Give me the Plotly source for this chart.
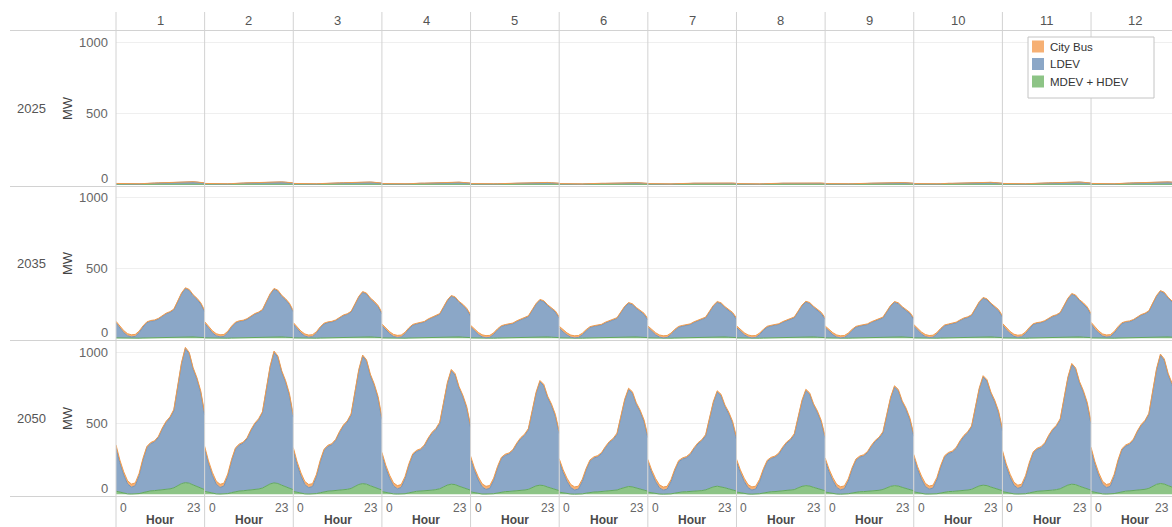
import plotly.graph_objects as go

# ---------------------------------------------------------------------------
# Data: hourly EV charging load (MW) by year and month
# ---------------------------------------------------------------------------
hours = list(range(24))
month_labels = [str(m) for m in range(1, 13)]
year_labels = ["2025", "2035", "2050"]
series_names = ["City Bus", "LDEV", "MDEV + HDEV"]

bus_2025 = [2, 2, 2, 2, 2, 2, 2, 1, 1, 1, 1, 1, 1, 1, 1, 1, 1, 1, 1, 1, 1, 1, 2, 2]
bus_2035 = [12, 14, 15, 15, 15, 14, 11, 8, 6, 5, 5, 5, 5, 5, 5, 6, 6, 6, 6, 7, 7, 8, 9, 11]
bus_2050 = [18, 20, 22, 22, 22, 20, 16, 12, 9, 8, 8, 8, 8, 8, 8, 9, 9, 9, 9, 10, 11, 12, 14, 16]

green_2025 = [0, 0, 0, 0, 0, 0, 0, 0, 1, 1, 1, 1, 1, 1, 1, 1, 1, 1, 1, 1, 1, 1, 0, 0]
green_2035 = [3, 2, 1, 1, 0, 0, 1, 2, 3, 4, 4, 5, 5, 5, 6, 7, 9, 11, 12, 11, 10, 8, 6, 5]
green_2050 = [
    [22, 14, 7, 3, 2, 2, 5, 12, 20, 24, 26, 28, 30, 33, 38, 45, 60, 75, 82, 78, 66, 54, 42, 33],
    [21, 14, 7, 3, 2, 2, 5, 12, 20, 23, 25, 27, 29, 32, 37, 44, 59, 73, 80, 76, 64, 53, 41, 32],
    [20, 13, 6, 3, 2, 2, 5, 11, 18, 22, 24, 26, 27, 30, 35, 41, 55, 69, 75, 71, 60, 49, 38, 30],
    [19, 12, 6, 3, 2, 2, 4, 10, 17, 21, 23, 24, 26, 29, 33, 39, 52, 65, 71, 68, 57, 47, 36, 29],
    [17, 11, 5, 2, 2, 2, 4, 9, 16, 19, 20, 22, 23, 26, 30, 35, 47, 59, 64, 61, 51, 42, 33, 26],
    [15, 9, 5, 2, 1, 1, 3, 8, 13, 16, 17, 19, 20, 22, 25, 30, 40, 50, 55, 52, 44, 36, 28, 22],
    [15, 10, 5, 2, 1, 1, 3, 8, 14, 17, 18, 19, 21, 23, 26, 31, 42, 52, 57, 54, 46, 38, 29, 23],
    [16, 10, 5, 2, 1, 1, 4, 9, 15, 18, 19, 21, 22, 25, 28, 33, 45, 56, 61, 58, 49, 40, 31, 25],
    [16, 11, 5, 2, 1, 1, 4, 9, 15, 18, 19, 21, 22, 25, 28, 34, 45, 56, 61, 58, 49, 40, 31, 25],
    [17, 11, 5, 2, 2, 2, 4, 9, 16, 19, 20, 22, 23, 26, 30, 35, 47, 59, 64, 61, 51, 42, 33, 26],
    [19, 12, 6, 3, 2, 2, 4, 10, 17, 21, 23, 24, 26, 29, 33, 39, 52, 65, 71, 68, 57, 47, 36, 29],
    [20, 13, 6, 3, 2, 2, 5, 11, 19, 22, 24, 26, 28, 31, 35, 42, 56, 70, 76, 72, 61, 50, 39, 31],
]

ldev_2025 = [
    [4, 3, 2, 1, 1, 1, 2, 4, 6, 7, 7, 8, 9, 10, 11, 12, 15, 18, 19, 18, 16, 14, 12, 8],
    [4, 3, 2, 1, 1, 1, 2, 4, 6, 7, 7, 8, 9, 10, 10, 11, 14, 17, 18, 17, 15, 13, 11, 8],
    [4, 3, 2, 1, 1, 1, 2, 4, 5, 6, 6, 7, 8, 9, 10, 11, 13, 15, 17, 16, 14, 12, 10, 7],
    [3, 2, 1, 1, 1, 1, 2, 3, 5, 5, 6, 6, 7, 8, 9, 10, 12, 14, 15, 14, 13, 11, 9, 7],
    [3, 2, 1, 1, 1, 1, 2, 3, 4, 5, 5, 5, 6, 7, 7, 8, 10, 11, 12, 12, 11, 9, 8, 6],
    [3, 2, 1, 1, 0, 1, 1, 3, 4, 4, 4, 5, 5, 6, 6, 7, 8, 10, 10, 10, 9, 8, 7, 5],
    [3, 2, 1, 1, 0, 1, 1, 3, 4, 4, 5, 5, 6, 6, 7, 7, 9, 10, 11, 10, 9, 8, 7, 5],
    [3, 2, 1, 1, 0, 1, 1, 3, 4, 4, 5, 5, 6, 6, 7, 7, 9, 10, 11, 10, 9, 8, 7, 5],
    [3, 2, 1, 1, 1, 1, 2, 3, 4, 5, 5, 5, 6, 7, 7, 8, 9, 11, 12, 11, 10, 9, 7, 6],
    [3, 2, 1, 1, 1, 1, 2, 3, 5, 5, 5, 6, 7, 7, 8, 9, 11, 13, 14, 13, 12, 10, 8, 6],
    [4, 3, 2, 1, 1, 1, 2, 4, 5, 6, 6, 7, 8, 9, 10, 11, 13, 16, 17, 16, 14, 12, 10, 7],
    [4, 3, 2, 1, 1, 1, 2, 4, 6, 7, 7, 8, 9, 10, 11, 12, 14, 17, 18, 17, 15, 13, 11, 8],
]

ldev_2035 = [
    [106, 68, 39, 17, 10, 14, 39, 78, 108, 118, 122, 132, 152, 169, 179, 195, 250, 306, 342, 330, 294, 270, 238, 183],
    [104, 67, 38, 17, 10, 13, 38, 77, 106, 116, 120, 130, 150, 166, 176, 192, 247, 301, 337, 325, 289, 266, 235, 181],
    [97, 62, 35, 15, 8, 12, 35, 72, 99, 108, 112, 121, 140, 156, 164, 179, 230, 282, 315, 304, 270, 248, 219, 168],
    [87, 55, 31, 12, 6, 9, 31, 65, 90, 98, 102, 110, 128, 142, 150, 163, 210, 257, 287, 277, 246, 226, 199, 153],
    [78, 49, 26, 9, 4, 7, 27, 58, 81, 89, 92, 99, 115, 128, 135, 147, 189, 231, 259, 250, 222, 204, 180, 137],
    [71, 43, 23, 7, 3, 6, 24, 52, 74, 81, 84, 90, 105, 117, 123, 134, 173, 212, 237, 228, 203, 186, 164, 125],
    [73, 45, 24, 8, 3, 6, 25, 54, 76, 83, 86, 93, 108, 120, 127, 138, 178, 218, 244, 235, 209, 192, 169, 129],
    [74, 46, 24, 8, 3, 6, 25, 55, 77, 84, 87, 94, 109, 121, 128, 139, 179, 220, 246, 237, 211, 193, 170, 130],
    [73, 45, 24, 8, 3, 6, 25, 54, 76, 83, 86, 93, 108, 120, 127, 138, 178, 218, 244, 235, 209, 192, 169, 129],
    [83, 52, 29, 11, 5, 8, 29, 61, 86, 93, 97, 105, 121, 135, 142, 155, 199, 244, 273, 263, 234, 215, 190, 145],
    [92, 58, 33, 13, 7, 11, 33, 68, 95, 103, 107, 116, 134, 149, 157, 171, 220, 269, 301, 290, 258, 237, 209, 161],
    [99, 63, 36, 15, 9, 12, 36, 73, 102, 111, 115, 124, 143, 159, 168, 183, 236, 288, 322, 310, 276, 254, 224, 172],
]

ldev_2050 = [
    [307, 207, 129, 70, 48, 58, 126, 229, 307, 332, 342, 371, 428, 472, 498, 542, 692, 843, 942, 910, 814, 754, 670, 523],
    [299, 201, 125, 68, 46, 56, 122, 223, 298, 323, 334, 362, 417, 460, 486, 528, 674, 821, 918, 887, 794, 735, 653, 510],
    [291, 195, 122, 65, 45, 53, 118, 217, 291, 315, 324, 352, 407, 449, 473, 515, 658, 800, 895, 865, 774, 716, 636, 496],
    [258, 173, 106, 56, 37, 46, 105, 193, 259, 280, 289, 314, 362, 399, 422, 459, 586, 714, 798, 770, 690, 638, 567, 441],
    [234, 155, 95, 50, 32, 40, 94, 175, 235, 255, 263, 285, 330, 364, 384, 418, 534, 650, 727, 702, 628, 581, 515, 401],
    [218, 145, 87, 45, 29, 36, 87, 163, 220, 239, 247, 267, 308, 341, 360, 391, 501, 610, 682, 659, 589, 544, 482, 375],
    [212, 140, 84, 43, 28, 35, 84, 158, 214, 231, 239, 260, 299, 331, 350, 380, 486, 592, 662, 639, 571, 528, 469, 364],
    [214, 142, 86, 44, 29, 36, 85, 160, 216, 234, 242, 262, 303, 334, 353, 384, 490, 597, 668, 645, 577, 534, 474, 368],
    [222, 147, 90, 46, 30, 38, 88, 166, 224, 243, 251, 272, 314, 346, 366, 397, 508, 619, 693, 669, 598, 554, 491, 382],
    [245, 163, 101, 53, 34, 42, 98, 183, 246, 267, 276, 299, 345, 380, 402, 437, 559, 680, 761, 735, 658, 608, 539, 420],
    [272, 182, 113, 60, 40, 49, 111, 203, 273, 295, 304, 330, 381, 420, 444, 483, 617, 751, 840, 811, 726, 671, 597, 465],
    [293, 197, 123, 66, 45, 54, 119, 219, 292, 317, 327, 354, 409, 451, 477, 518, 662, 805, 901, 870, 779, 721, 640, 499],
]

y_ticks = [0, 500, 1000]

# ---------------------------------------------------------------------------
# Styling
# ---------------------------------------------------------------------------
FONT = "Liberation Sans, Arial, sans-serif"
fill_colors = {"City Bus": "#f6b074", "LDEV": "#8ba7c7", "MDEV + HDEV": "#8dc486"}
line_colors = {"City Bus": "#ee9b4f", "LDEV": "#7393b8", "MDEV + HDEV": "#63a95e"}
GRID = "#efefef"
RULE = "#d2d2d2"

W, H = 1172, 527
COL0, COLW = 116.0, 88.64
row_px = [(30, 186), (186, 340), (340, 496)]
Y_RANGE = [-12, 1085]


def px_x(x):
    return x / W


def px_y(y):
    return 1 - y / H


series_by_year = {
    "2025": (ldev_2025, [green_2025] * 12, bus_2025),
    "2035": (ldev_2035, [green_2035] * 12, bus_2035),
    "2050": (ldev_2050, green_2050, bus_2050),
}

fig = go.Figure()
layout = {}
annotations = []
shapes = []

for r, year in enumerate(year_labels):
    ldev, green, bus = series_by_year[year]
    top, bottom = row_px[r]
    for c in range(12):
        k = r * 12 + c + 1
        sfx = "" if k == 1 else str(k)
        left = COL0 + COLW * c
        right = left + COLW
        vis_right = min(right, W)
        xmax = 23 * (vis_right - left) / COLW
        layout[f"xaxis{sfx}"] = dict(
            domain=[px_x(left), px_x(vis_right)], range=[0, xmax],
            anchor=f"y{sfx}", showgrid=False, zeroline=False,
            showticklabels=False, showline=False, fixedrange=True,
        )
        layout[f"yaxis{sfx}"] = dict(
            domain=[px_y(bottom), px_y(top)], range=Y_RANGE,
            anchor=f"x{sfx}", showgrid=True, gridcolor=GRID, gridwidth=1,
            tickvals=[500, 1000], zeroline=False, showticklabels=False,
            showline=False, fixedrange=True,
        )
        stack = f"s{k}"
        for name, vals in (("MDEV + HDEV", green[c]), ("LDEV", ldev[c]), ("City Bus", bus)):
            fig.add_trace(go.Scatter(
                x=hours, y=vals, name=name, stackgroup=stack,
                mode="lines", line=dict(color=line_colors[name], width=1),
                fillcolor=fill_colors[name], showlegend=False,
                xaxis=f"x{sfx}", yaxis=f"y{sfx}", hoverinfo="skip",
            ))

        # hour tick labels and axis title under the bottom row
        if r == len(year_labels) - 1:
            annotations.append(dict(
                x=px_x(left + 2), y=px_y(508), xref="paper", yref="paper",
                text="0", showarrow=False, xanchor="left", yanchor="middle",
                font=dict(size=12, color="#666666", family=FONT)))
            annotations.append(dict(
                x=px_x(min(right - 2, W - 1)), y=px_y(508), xref="paper", yref="paper",
                text="23", showarrow=False, xanchor="right", yanchor="middle",
                font=dict(size=12, color="#666666", family=FONT)))
            annotations.append(dict(
                x=px_x((left + right) / 2), y=px_y(520), xref="paper", yref="paper",
                text="Hour", showarrow=False, xanchor="center", yanchor="middle",
                font=dict(size=12, color="#4a4a4a", family=FONT, weight="bold")))

    # row header, axis title and value ticks
    mid = (top + bottom) / 2
    annotations.append(dict(
        x=px_x(31), y=px_y(mid), xref="paper", yref="paper", text=year,
        showarrow=False, xanchor="center", yanchor="middle",
        font=dict(size=13, color="#555555", family=FONT)))
    annotations.append(dict(
        x=px_x(67), y=px_y(mid), xref="paper", yref="paper", text="MW",
        showarrow=False, xanchor="center", yanchor="middle", textangle=-90,
        font=dict(size=13, color="#444444", family=FONT)))
    ysfx = "" if r == 0 else str(r * 12 + 1)
    for v in y_ticks:
        annotations.append(dict(
            x=px_x(110), y=v, xref="paper", yref=f"y{ysfx}", text=str(v),
            showarrow=False, xanchor="right", yanchor="middle",
            yshift=6 if v == 0 else 0,
            font=dict(size=13, color="#666666", family=FONT)))

# month headers
for c, m in enumerate(month_labels):
    cx = COL0 + COLW * c + COLW / 2
    annotations.append(dict(
        x=px_x(cx), y=px_y(20), xref="paper", yref="paper", text=m,
        showarrow=False, xanchor="center", yanchor="middle",
        font=dict(size=13, color="#555555", family=FONT)))

# pane rules
for y in (30, 186, 340, 496):
    shapes.append(dict(type="line", xref="paper", yref="paper",
                       x0=px_x(10), x1=1, y0=px_y(y + 0.5), y1=px_y(y + 0.5),
                       line=dict(color=RULE, width=1), layer="above"))
for c in range(13):
    x = COL0 + COLW * c
    if x > W:
        continue
    shapes.append(dict(type="line", xref="paper", yref="paper",
                       x0=px_x(x), x1=px_x(x), y0=px_y(12), y1=0,
                       line=dict(color=RULE, width=1), layer="above"))

# legend box
LX0, LY0, LX1, LY1 = 1028, 37, 1154, 98
shapes.append(dict(type="rect", xref="paper", yref="paper",
                   x0=px_x(LX0), x1=px_x(LX1), y0=px_y(LY1), y1=px_y(LY0),
                   line=dict(color="#c4c4c4", width=1), fillcolor="white", layer="above"))
for i, name in enumerate(series_names):
    cy = 46.5 + i * 17.5
    shapes.append(dict(type="rect", xref="paper", yref="paper",
                       x0=px_x(1032), x1=px_x(1044), y0=px_y(cy + 6), y1=px_y(cy - 6),
                       line=dict(width=0), fillcolor=fill_colors[name], layer="above"))
    annotations.append(dict(
        x=px_x(1048), y=px_y(cy), xref="paper", yref="paper", text=name,
        showarrow=False, xanchor="left", yanchor="middle",
        font=dict(size=11.5, color="#333333", family=FONT)))

fig.update_layout(
    width=W, height=H,
    margin=dict(l=0, r=0, t=0, b=0),
    paper_bgcolor="white", plot_bgcolor="white",
    showlegend=False, hovermode=False,
    font=dict(family=FONT),
    annotations=annotations, shapes=shapes,
    **layout,
)

fig.write_html("out.html", config={"displayModeBar": False})
